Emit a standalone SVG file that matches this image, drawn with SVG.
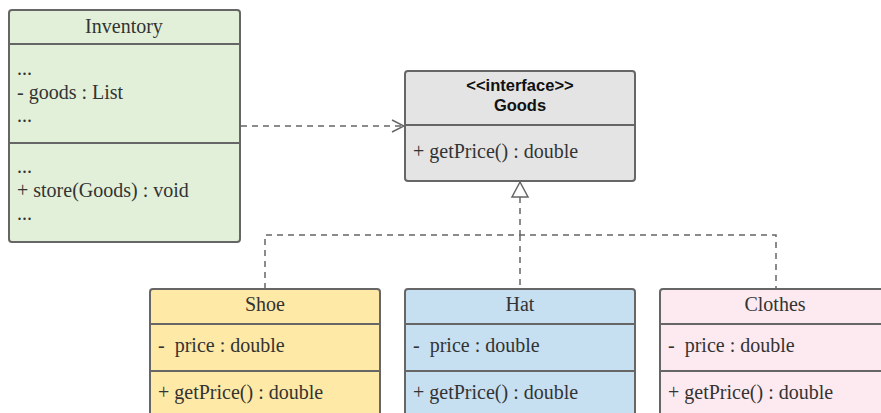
<svg xmlns="http://www.w3.org/2000/svg" width="881" height="413" viewBox="0 0 881 413">
  <style>
    .box { stroke: #666666; stroke-width: 2; }
    .div { stroke: #666666; stroke-width: 2; fill: none; }
    .t { font-family: "Liberation Serif", serif; font-size: 20px; fill: #333333; }
    .c { text-anchor: middle; }
    .b { font-family: "Liberation Sans", Arial, sans-serif; font-size: 16.5px; font-weight: bold; fill: #111111; text-anchor: middle; }
    .dash { stroke: #666666; stroke-width: 1.5; stroke-dasharray: 6 5; fill: none; }
  </style>
  <defs>
    <marker id="open" markerWidth="14" markerHeight="14" refX="13" refY="7" orient="auto" markerUnits="userSpaceOnUse">
      <path d="M1,1 L13,7 L1,13" fill="none" stroke="#666666" stroke-width="1.5"/>
    </marker>
  </defs>
  <rect width="881" height="413" fill="#ffffff"/>

  <g id="connectors">
    <line class="dash" x1="241" y1="126" x2="404" y2="126" marker-end="url(#open)"/>
    <path class="dash" d="M520,197 V235 M265,289 V235 H776 V289 M520,235 V289"/>
    <path d="M520,182 L512,197 L528,197 Z" fill="#ffffff" stroke="#666666" stroke-width="1.5"/>
  </g>

  <g id="Inventory">
    <rect class="box" x="9" y="10" width="231" height="232" rx="3" fill="#e2f0d9"/>
    <line class="div" x1="9" y1="44" x2="240" y2="44"/>
    <line class="div" x1="9" y1="143" x2="240" y2="143"/>
    <text class="t c" x="124" y="33">Inventory</text>
    <text class="t" x="17" y="75">...</text>
    <text class="t" x="17" y="99">- goods : List</text>
    <text class="t" x="17" y="122">...</text>
    <text class="t" x="17" y="173">...</text>
    <text class="t" x="17" y="197">+ store(Goods) : void</text>
    <text class="t" x="17" y="220">...</text>
  </g>

  <g id="Goods">
    <rect class="box" x="405" y="71" width="230" height="110" rx="3" fill="#e4e4e4"/>
    <line class="div" x1="405" y1="125" x2="635" y2="125"/>
    <text class="b" x="520" y="91">&lt;&lt;interface&gt;&gt;</text>
    <text class="b" x="520" y="111">Goods</text>
    <text class="t" x="413" y="158">+ getPrice() : double</text>
  </g>

  <g id="Shoe">
    <rect class="box" x="150" y="289" width="230" height="140" rx="3" fill="#fee9a6"/>
    <line class="div" x1="150" y1="324" x2="380" y2="324"/>
    <line class="div" x1="150" y1="371" x2="380" y2="371"/>
    <text class="t c" x="265" y="311">Shoe</text>
    <text class="t" x="158" y="352" xml:space="preserve">-  price : double</text>
    <text class="t" x="158" y="399">+ getPrice() : double</text>
  </g>

  <g id="Hat">
    <rect class="box" x="405" y="289" width="230" height="140" rx="3" fill="#c6dff1"/>
    <line class="div" x1="405" y1="324" x2="635" y2="324"/>
    <line class="div" x1="405" y1="371" x2="635" y2="371"/>
    <text class="t c" x="520" y="311">Hat</text>
    <text class="t" x="413" y="352" xml:space="preserve">-  price : double</text>
    <text class="t" x="413" y="399">+ getPrice() : double</text>
  </g>

  <g id="Clothes">
    <rect class="box" x="660" y="289" width="230" height="140" rx="3" fill="#fdeaf0"/>
    <line class="div" x1="660" y1="324" x2="890" y2="324"/>
    <line class="div" x1="660" y1="371" x2="890" y2="371"/>
    <text class="t c" x="775" y="311">Clothes</text>
    <text class="t" x="668" y="352" xml:space="preserve">-  price : double</text>
    <text class="t" x="668" y="399">+ getPrice() : double</text>
  </g>
</svg>
